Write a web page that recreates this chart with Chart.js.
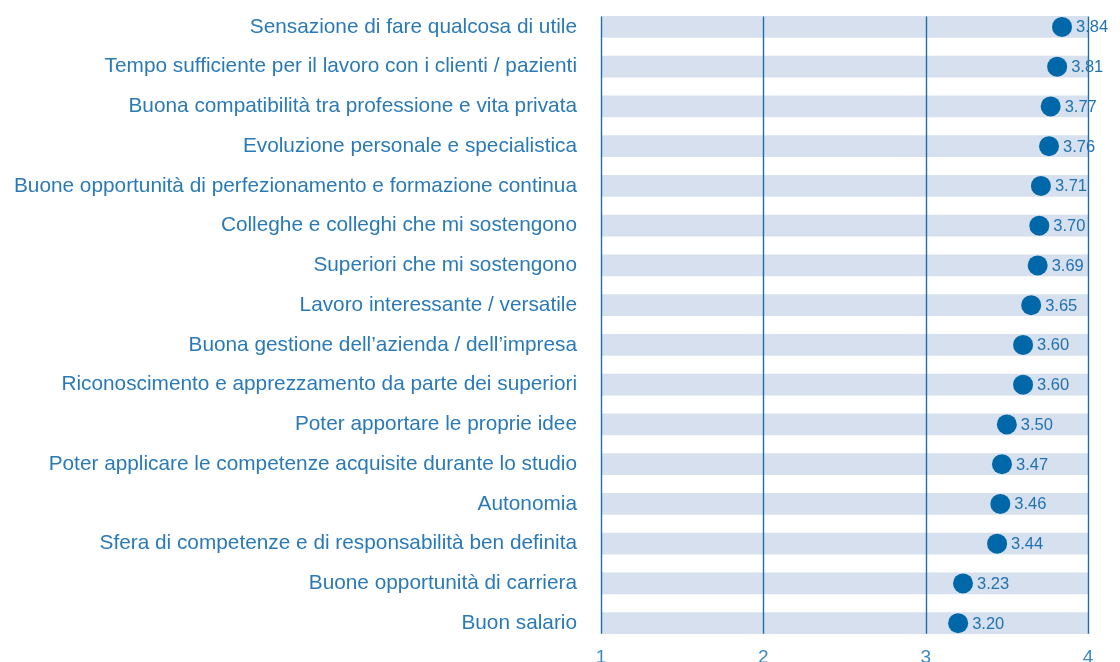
<!DOCTYPE html>
<html>
<head>
<meta charset="utf-8">
<script src="https://cdn.jsdelivr.net/npm/chart.js@4/dist/chart.umd.min.js"></script>
<style>
  html, body { margin: 0; padding: 0; background: #fff; overflow: hidden; }
  canvas { display: block; }
</style>
</head>
<body>
<canvas id="dotChart" width="1120" height="662"></canvas>
<script>
const categories = [
    "Sensazione di fare qualcosa di utile",
    "Tempo sufficiente per il lavoro con i clienti / pazienti",
    "Buona compatibilità tra professione e vita privata",
    "Evoluzione personale e specialistica",
    "Buone opportunità di perfezionamento e formazione continua",
    "Colleghe e colleghi che mi sostengono",
    "Superiori che mi sostengono",
    "Lavoro interessante / versatile",
    "Buona gestione dell’azienda / dell’impresa",
    "Riconoscimento e apprezzamento da parte dei superiori",
    "Poter apportare le proprie idee",
    "Poter applicare le competenze acquisite durante lo studio",
    "Autonomia",
    "Sfera di competenze e di responsabilità ben definita",
    "Buone opportunità di carriera",
    "Buon salario"
];
const scores = [3.84, 3.81, 3.77, 3.76, 3.71, 3.70, 3.69, 3.65, 3.60, 3.60, 3.50, 3.47, 3.46, 3.44, 3.23, 3.20];
const scaleMin = 1;
const scaleMax = 4;
const tickValues = [1, 2, 3, 4];

const BAND_H = 21;
const FONT = "'Liberation Sans', Arial, sans-serif";

// vertical lines only across the bands (on top of them), plus value labels
const extras = {
    id: "extras",
    afterDatasetDraw(chart, args) {
        if (args.index !== 0) return;
        const { ctx, scales: { x, y } } = chart;
        const top = y.getPixelForValue(0) - BAND_H / 2;
        const bottom = y.getPixelForValue(categories.length - 1) + BAND_H / 2;
        ctx.save();
        ctx.strokeStyle = "#1f6ea8";
        ctx.lineWidth = 1.4;
        tickValues.forEach(v => {
            const px = Math.round(x.getPixelForValue(v)) + 0.5;
            ctx.beginPath();
            ctx.moveTo(px, top);
            ctx.lineTo(px, bottom);
            ctx.stroke();
        });
        ctx.restore();
    },
    afterDatasetsDraw(chart) {
        const { ctx } = chart;
        const meta = chart.getDatasetMeta(1);
        ctx.save();
        ctx.fillStyle = "#2173b0";
        ctx.font = "16.5px " + FONT;
        ctx.textBaseline = "middle";
        ctx.textAlign = "left";
        meta.data.forEach((pt, i) => {
            ctx.fillText(scores[i].toFixed(2), pt.x + 14, pt.y + 1);
        });
        ctx.restore();
    }
};

const ctx = document.getElementById("dotChart").getContext("2d");
new Chart(ctx, {
    type: "bar",
    data: {
        labels: categories,
        datasets: [{
            type: "bar",
            data: categories.map(() => [scaleMin, scaleMax]),
            backgroundColor: "#d6e0ee",
            barThickness: BAND_H,
            order: 2
        }, {
            type: "line",
            data: scores,
            showLine: false,
            pointRadius: 10,
            pointHoverRadius: 10,
            pointBackgroundColor: "#0068a8",
            pointBorderWidth: 0,
            clip: false,
            order: 1
        }]
    },
    options: {
        indexAxis: "y",
        responsive: false,
        animation: false,
        layout: { autoPadding: false, padding: { top: 7, right: 32, left: 0, bottom: 0 } },
        plugins: {
            legend: { display: false },
            tooltip: { enabled: false }
        },
        scales: {
            x: {
                type: "linear",
                min: scaleMin,
                max: scaleMax,
                grid: { display: false },
                border: { display: false },
                afterBuildTicks(scale) {
                    scale.ticks = tickValues.map(v => ({ value: v }));
                },
                afterFit(scale) { scale.height = 19; },
                ticks: {
                    padding: -5,
                    color: "#3b8ac2",
                    font: { family: FONT, size: 19 }
                }
            },
            y: {
                grid: { display: false },
                border: { display: false },
                afterFit(scale) {
                    scale.width = 601;
                    scale.paddingTop = 0;
                    scale.paddingBottom = 0;
                },
                ticks: {
                    padding: 16,
                    color: "#2a7ab7",
                    font: { family: FONT, size: 20.8 }
                }
            }
        }
    },
    plugins: [extras]
});
</script>
</body>
</html>
